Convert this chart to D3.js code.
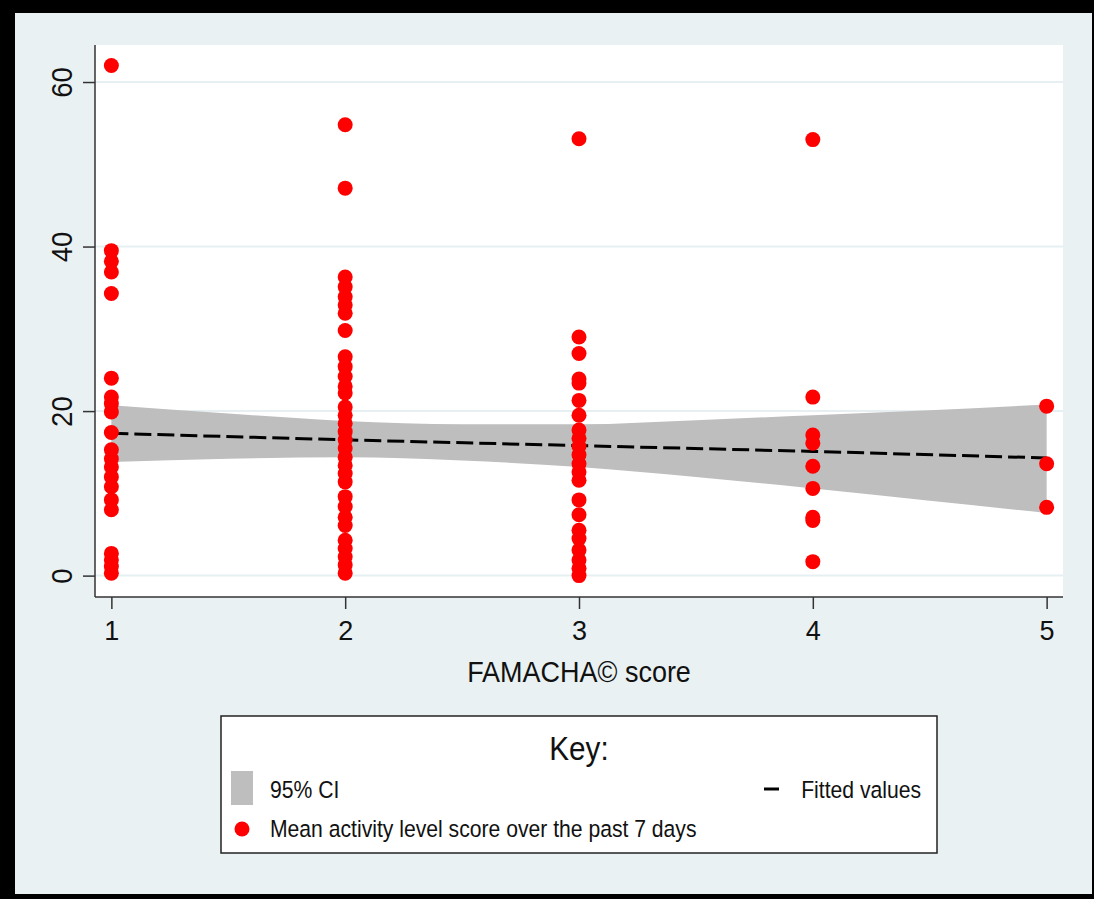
<!DOCTYPE html>
<html>
<head>
<meta charset="utf-8">
<script src="https://cdn.jsdelivr.net/npm/d3@7"></script>
<style>
  body { margin: 0; background: #000; }
  svg { display: block; }
  text { font-family: "Liberation Sans", Arial, sans-serif; fill: #111; }
</style>
</head>
<body>
<div id="chart"></div>
<script>
// FAMACHA score categories and the activity scores read at each one
var famachaScores = [1, 2, 3, 4, 5];
var activityAt1 = [62.0, 39.5, 38.2, 36.9, 34.3, 24.0, 21.7, 20.9, 19.9, 17.4, 15.3, 14.2, 13.2, 12.0, 10.8, 9.2, 8.0, 2.7, 1.9, 1.1, 0.3];
var activityAt2 = [54.8, 47.1, 36.3, 35.1, 33.9, 32.9, 31.9, 29.8, 26.6, 25.4, 24.2, 23.0, 22.2, 20.5, 19.5, 18.5, 17.5, 16.5, 15.5, 14.4, 13.4, 12.4, 11.4, 9.6, 8.4, 7.1, 6.1, 4.3, 3.3, 2.3, 1.3, 0.3];
var activityAt3 = [53.1, 29.0, 27.0, 23.9, 23.4, 21.3, 19.5, 17.7, 16.7, 15.7, 14.7, 13.6, 12.6, 11.6, 9.2, 7.4, 5.5, 4.5, 3.1, 1.9, 0.9, 0.0];
var activityAt4 = [53.0, 21.7, 17.1, 16.1, 13.3, 10.6, 7.1, 6.7, 1.7];
var activityAt5 = [20.6, 13.6, 8.3];

// linear fit and its 95% confidence band
var fittedValues = [17.3, 16.5, 15.8, 15.1, 14.3];
var ciScores = [1, 1.5, 2, 2.5, 3, 3.5, 4, 4.5, 5];
var ciLower = [13.8, 14.2, 14.4, 14.0, 13.2, 12.0, 10.6, 9.1, 7.6];
var ciUpper = [20.7, 19.7, 18.8, 18.4, 18.4, 18.9, 19.5, 20.1, 20.8];

var yTicks = [0, 20, 40, 60];
var xLabel = "FAMACHA\u00a9 score";
var legendTitle = "Key:";
var ciLabel = "95% CI";
var fitLabel = "Fitted values";
var pointLabel = "Mean activity level score over the past 7 days";

var W = 1094, H = 899;
var plot = {left: 95, right: 1063, top: 45, bottom: 597};
var squeeze = 0.9; // text in the original is a bit narrow

var svg = d3.select("#chart").append("svg")
  .attr("width", W)
  .attr("height", H);

// outer frame
svg.append("rect").attr("width", W).attr("height", H).attr("fill", "#000");
svg.append("rect")
  .attr("x", 15).attr("y", 13)
  .attr("width", 1077).attr("height", 881)
  .attr("fill", "#eaf1f3");

svg.append("rect")
  .attr("x", plot.left).attr("y", plot.top)
  .attr("width", plot.right - plot.left).attr("height", plot.bottom - plot.top)
  .attr("fill", "#fff");

var x = d3.scaleLinear().domain([0.93, 5.07]).range([plot.left, plot.right]);
var y = d3.scaleLinear().domain([-2.6, 64.5]).range([plot.bottom, plot.top]);

// gridlines
svg.append("g").selectAll("line")
  .data(yTicks)
  .enter()
  .append("line")
  .attr("x1", plot.left).attr("x2", plot.right)
  .attr("y1", function(d) { return y(d); })
  .attr("y2", function(d) { return y(d); })
  .attr("stroke", "#e6eff1")
  .attr("stroke-width", 2);

// confidence band
var band = d3.area()
  .x(function(d, i) { return x(ciScores[i]); })
  .y0(function(d, i) { return y(ciLower[i]); })
  .y1(function(d, i) { return y(ciUpper[i]); })
  .curve(d3.curveMonotoneX);
svg.append("path")
  .datum(ciScores)
  .attr("d", band)
  .attr("fill", "#bebebe");

// fitted line
var fitLine = d3.line()
  .x(function(d, i) { return x(famachaScores[i]); })
  .y(function(d) { return y(d); });
svg.append("path")
  .datum(fittedValues)
  .attr("d", fitLine)
  .attr("fill", "none")
  .attr("stroke", "#000")
  .attr("stroke-width", 3)
  .attr("stroke-dasharray", "17,6");

// scatter points
var groups = [activityAt1, activityAt2, activityAt3, activityAt4, activityAt5];
var points = [];
groups.forEach(function(vals, i) {
  vals.forEach(function(v) { points.push({score: famachaScores[i], value: v}); });
});
svg.append("g").selectAll("circle")
  .data(points)
  .enter()
  .append("circle")
  .attr("cx", function(d) { return x(d.score); })
  .attr("cy", function(d) { return y(d.value); })
  .attr("r", 7.5)
  .attr("fill", "#ff0000");

// axes
var yAxis = svg.append("g")
  .attr("transform", "translate(" + plot.left + ",0)")
  .call(d3.axisLeft(y).tickValues(yTicks).tickSize(12).tickPadding(6).tickFormat(d3.format("d")));
yAxis.select(".domain").attr("d", "M0," + plot.top + "V" + plot.bottom).attr("stroke", "#333").attr("stroke-width", 1.5);
yAxis.selectAll(".tick line").attr("stroke", "#333").attr("stroke-width", 1.5);
yAxis.selectAll(".tick text")
  .attr("x", null).attr("dy", null)
  .attr("transform", "translate(-23,0) rotate(-90) scale(0.95,1)")
  .attr("text-anchor", "middle")
  .style("font-size", "29px")
  .style("font-family", "'Liberation Sans', Arial, sans-serif")
  .attr("fill", "#111");

var xAxis = svg.append("g")
  .attr("transform", "translate(0," + plot.bottom + ")")
  .call(d3.axisBottom(x).tickValues(famachaScores).tickSize(12).tickPadding(8).tickFormat(d3.format("d")));
xAxis.select(".domain").attr("d", "M" + plot.left + ",0H" + plot.right).attr("stroke", "#333").attr("stroke-width", 1.5);
xAxis.selectAll(".tick line").attr("stroke", "#333").attr("stroke-width", 1.5);
xAxis.selectAll(".tick text")
  .attr("y", 43).attr("dy", null)
  .style("font-size", "27px")
  .style("font-family", "'Liberation Sans', Arial, sans-serif")
  .attr("fill", "#111");

// text placed at (px, py) and narrowed a little
function addText(parent, px, py, size, anchor, label) {
  return parent.append("text")
    .attr("transform", "translate(" + px + "," + py + ") scale(" + squeeze + ",1)")
    .attr("text-anchor", anchor)
    .style("font-size", size + "px")
    .text(label);
}

addText(svg, (plot.left + plot.right) / 2, 682, 30, "middle", xLabel);

// legend
var lg = svg.append("g");
lg.append("rect")
  .attr("x", 221).attr("y", 716)
  .attr("width", 716).attr("height", 137)
  .attr("fill", "#fff")
  .attr("stroke", "#222")
  .attr("stroke-width", 1.5);
addText(lg, 579, 760, 33, "middle", legendTitle);
lg.append("rect")
  .attr("x", 231).attr("y", 771)
  .attr("width", 22).attr("height", 34)
  .attr("fill", "#bebebe");
addText(lg, 270, 798, 23.5, "start", ciLabel);
lg.append("line")
  .attr("x1", 764).attr("x2", 779)
  .attr("y1", 789).attr("y2", 789)
  .attr("stroke", "#000")
  .attr("stroke-width", 3);
addText(lg, 921, 798, 23.5, "end", fitLabel);
lg.append("circle")
  .attr("cx", 242).attr("cy", 829)
  .attr("r", 7.5)
  .attr("fill", "#ff0000");
addText(lg, 270, 837, 23.5, "start", pointLabel);
</script>
</body>
</html>
